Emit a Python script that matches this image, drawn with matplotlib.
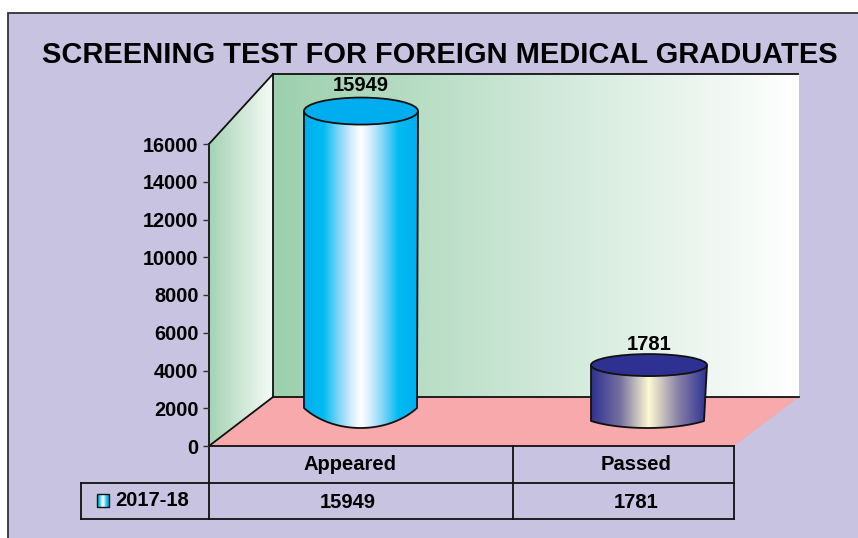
"""Pseudo-3D cylinder chart of the screening test figures, with a data table underneath."""
import matplotlib
matplotlib.use("Agg")
import matplotlib.pyplot as plt
import numpy as np
from matplotlib.colors import LinearSegmentedColormap
from matplotlib.patches import Ellipse, PathPatch, Polygon, Rectangle
from matplotlib.path import Path

TITLE = "SCREENING TEST FOR FOREIGN MEDICAL GRADUATES"
categories = ["Appeared", "Passed"]
series_name = "2017-18"
values = [15949, 1781]
y_ticks = [0, 2000, 4000, 6000, 8000, 10000, 12000, 14000, 16000]

W, H = 858, 538
BG = "#C7C3E1"
FLOOR = "#F7A9AB"
LW = 1.3

CMAP_BLUE = LinearSegmentedColormap.from_list(
    "blue", [(0, "#00AEEF"), (0.17, "#00BCF2"), (0.3, "#7DD3F7"), (0.42, "#D5EFFC"), (0.5, "#FFFFFF"),
             (0.58, "#D5EFFC"), (0.7, "#7DD3F7"), (0.83, "#00BCF2"), (1, "#00AEEF")])
CMAP_NAVY = LinearSegmentedColormap.from_list(
    "navy", [(0, "#2E3192"), (0.25, "#76709F"), (0.5, "#FFF9D2"), (0.75, "#8A82A8"), (1, "#2E3192")])
WALL_BACK = LinearSegmentedColormap.from_list("back", ["#9CD0AE", "#FFFFFF"])
WALL_SIDE = LinearSegmentedColormap.from_list("side", ["#A3D3B3", "#F6FBF7"])

# cylinder drawing, in pixels
PX_PER_UNIT = 254 / 14168
BASE_PX = 397
CAT0_PX, CAT_STEP_PX = 361, 288
CYL_STYLE = [
    {"halfw": 57, "ry": 13.5, "end": 408, "low": 428, "taper": 1, "cmap": CMAP_BLUE, "top": "#00AEEF", "pad": 12.5},
    {"halfw": 58, "ry": 11, "end": 421, "low": 428, "taper": 3, "cmap": CMAP_NAVY, "top": "#2E3192", "pad": 10},
]


def y_from_px(py):
    return (BASE_PX - py) / PX_PER_UNIT


def gradient(ax, cmap, extent, clip=None):
    grad = np.linspace(0, 1, 256).reshape(1, -1)
    im = ax.imshow(grad, cmap=cmap, extent=extent, aspect="auto", zorder=1, interpolation="bilinear")
    if clip is not None:
        im.set_clip_path(clip)
    return im


fig = plt.figure(figsize=(W / 100, H / 100), dpi=100, facecolor="white")
plt.rcParams["font.family"] = ["Liberation Sans", "DejaVu Sans"]
plt.rcParams["font.weight"] = "bold"

# background layer in pixel coordinates: panel, walls, floor, table
bg = fig.add_axes([0, 0, 1, 1], zorder=0)
bg.set_xlim(0, W)
bg.set_ylim(H, 0)
bg.axis("off")

bg.add_patch(Rectangle((8, 13), W, H, fc=BG, ec="#333333", lw=LW))
bg.text(440, 55, TITLE, ha="center", va="center", fontsize=20.9, fontweight="bold", color="black")

back = Polygon([(273, 74), (799, 74), (799, 397), (273, 397)], closed=True, fc="none", ec="none")
bg.add_patch(back)
gradient(bg, WALL_BACK, (273, 799, 397, 74), back)
side = Polygon([(209, 144), (273, 74), (273, 397), (209, 446)], closed=True, fc="none", ec="none")
bg.add_patch(side)
gradient(bg, WALL_SIDE, (209, 273, 446, 74), side)
bg.add_patch(Polygon([(209, 446), (273, 397), (799, 397), (734, 446)], closed=True, fc=FLOOR, ec="none", zorder=2))
bg.set_xlim(0, W)
bg.set_ylim(H, 0)

for xs, ys in [
    ((209, 273), (144, 74)), ((273, 798), (74, 74)), ((273, 273), (74, 397)),
    ((209, 273), (446, 397)), ((273, 799), (397, 397)),
    ((209, 734), (446, 446)), ((81, 734), (483, 483)), ((81, 734), (519, 519)),
    ((81, 81), (483, 519)), ((209, 209), (144, 519)), ((513, 513), (446, 519)), ((734, 734), (446, 519)),
]:
    bg.plot(xs, ys, color="#111111", lw=LW, zorder=3, solid_capstyle="projecting")

for cat, val, x_cat in zip(categories, values, (350, 636)):
    bg.text(x_cat, 465, cat, ha="center", va="center", fontsize=14.5, fontweight="bold")
    bg.text(x_cat - 2 if cat == categories[0] else x_cat, 502.5, str(val), ha="center", va="center",
            fontsize=14.5, fontweight="bold")
bg.text(115, 500.5, series_name, ha="left", va="center", fontsize=14.5, fontweight="bold")
key = Rectangle((97, 494), 12, 13, fc="none", ec="#111111", lw=1.0, zorder=4)
bg.add_patch(key)
gradient(bg, CMAP_BLUE, (97, 109, 507, 494), key)
bg.set_xlim(0, W)
bg.set_ylim(H, 0)

# real value axis over the front plane
ax = fig.add_axes([209 / W, (H - 446) / H, 525 / W, 302 / H], zorder=1)
ax.patch.set_visible(False)
ax.set_ylim(0, 16000)
ax.set_xticks([])
ax.set_yticks(y_ticks)
ax.tick_params(axis="y", length=4.5, width=1.0, color="#333333", labelsize=14.3, pad=3)
for lab in ax.get_yticklabels():
    lab.set_fontweight("bold")
for s in ax.spines.values():
    s.set_visible(False)

# cylinders: x is the category index, y the value
cyl = fig.add_axes([0, 0, 1, 1], zorder=2)
cyl.patch.set_visible(False)
cyl.axis("off")
xlim = ((0 - CAT0_PX) / CAT_STEP_PX, (W - CAT0_PX) / CAT_STEP_PX)
ylim = (y_from_px(H), y_from_px(0))

for i, (val, st) in enumerate(zip(values, CYL_STYLE)):
    hw = st["halfw"] / CAT_STEP_PX
    taper = st["taper"] / CAT_STEP_PX
    ry = st["ry"] / PX_PER_UNIT
    end = y_from_px(st["end"])
    low = y_from_px(st["low"])
    # body outline: straight sides, shallow curved bottom that meets them at a corner
    u = np.linspace(-1, 1, 61)
    wide = 1.3
    sag = (np.sqrt(1 - (u / wide) ** 2) - np.sqrt(1 - (1 / wide) ** 2)) / (1 - np.sqrt(1 - (1 / wide) ** 2))
    arc_x = i - taper / 2 + (hw - taper / 2) * u
    arc_y = end + (low - end) * sag
    verts = [(i - hw, val)] + list(zip(arc_x, arc_y)) + [(i + hw, val)]
    body = PathPatch(Path(verts), fc="none", ec="#111111", lw=LW, zorder=3, joinstyle="round")
    cyl.add_patch(body)
    gradient(cyl, st["cmap"], (i - hw, i + hw, low, val), body)
    cyl.add_patch(Ellipse((i, val), 2 * hw, 2 * ry, fc=st["top"], ec="#111111", lw=LW, zorder=4))
    cyl.annotate(str(val), (i, val), xytext=(0, (st["ry"] + st["pad"]) * 0.72), textcoords="offset points",
                 ha="center", va="center", fontsize=14.5, fontweight="bold", zorder=5)

cyl.set_xlim(*xlim)
cyl.set_ylim(*ylim)

fig.savefig("out.png", dpi=100)
